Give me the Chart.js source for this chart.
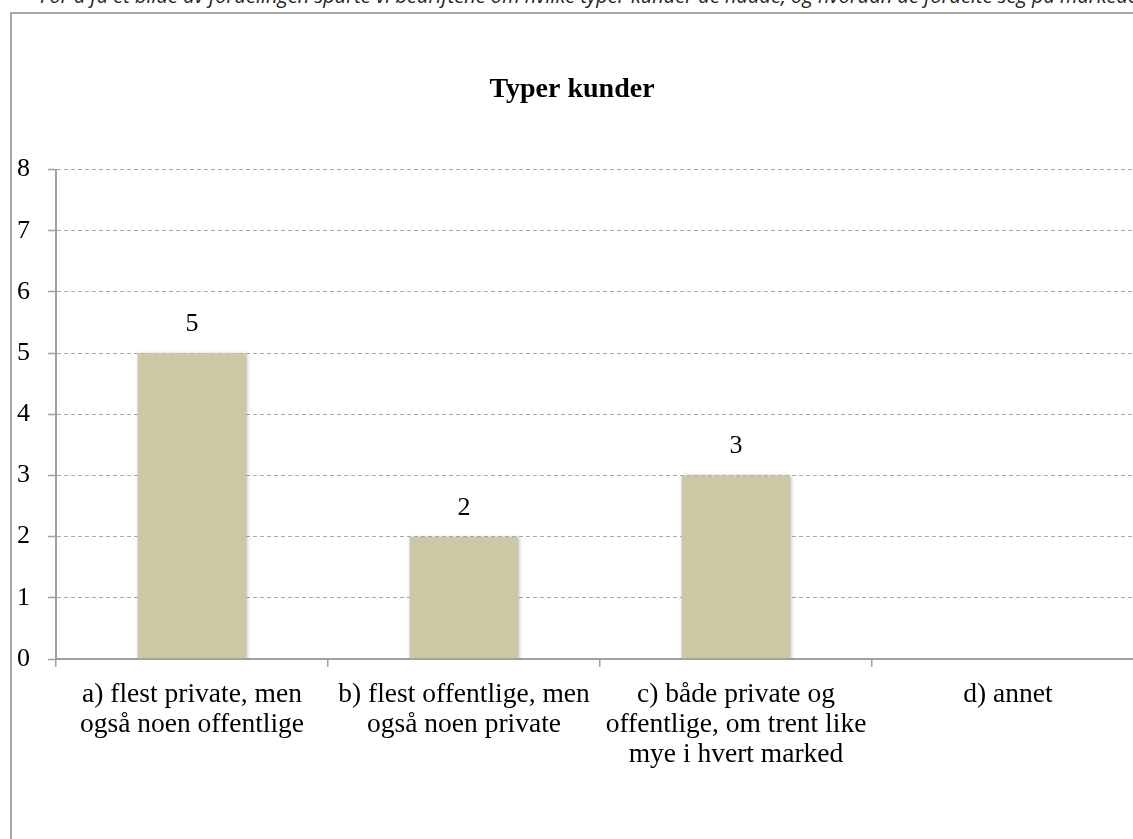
<!DOCTYPE html>
<html>
<head>
<meta charset="utf-8">
<script src="https://cdn.jsdelivr.net/npm/chart.js@4.4.1/dist/chart.umd.min.js"></script>
<style>
  html, body { margin: 0; padding: 0; background: #fff; overflow: hidden; width: 1133px; height: 839px; }
  #intro { position: absolute; left: 40px; top: -18px; font: italic 20px "Open Sans", sans-serif; color: #222; white-space: nowrap; }
  #frame { position: absolute; left: 10px; top: 12px; width: 1200px; height: 900px; border: 2px solid #a6a6a6; box-sizing: border-box; }
  #wrap { position: absolute; left: 0; top: 0; width: 1160px; height: 839px; }
</style>
</head>
<body>
<div id="intro">For å få et bilde av fordelingen spurte vi bedriftene om hvilke typer kunder de hadde, og hvordan de fordelte seg på markedene.</div>
<div id="frame"></div>
<div id="wrap"><canvas id="myChart"></canvas></div>
<script>
"use strict";
var categories = [
    ["a) flest private, men", "også noen offentlige"],
    ["b) flest offentlige, men", "også noen private"],
    ["c) både private og", "offentlige, om trent like", "mye i hvert marked"],
    ["d) annet"]
];
var antall = [5, 2, 3, 0];
var yTicks = [0, 1, 2, 3, 4, 5, 6, 7, 8];

var serif = "'Liberation Serif', 'DejaVu Serif', serif";

// verdier over stolpene
var valueLabels = {
    id: "valueLabels",
    afterDatasetsDraw: function (chart) {
        var ctx = chart.ctx;
        var meta = chart.getDatasetMeta(0);
        ctx.save();
        ctx.font = "26px " + serif;
        ctx.fillStyle = "#000";
        ctx.textAlign = "center";
        ctx.textBaseline = "alphabetic";
        meta.data.forEach(function (bar, i) {
            var v = chart.data.datasets[0].data[i];
            if (!v) return;
            ctx.fillText(String(v), bar.x, bar.y - 22);
        });
        ctx.restore();
    }
};

// litt skygge rundt stolpene
var barShadow = {
    id: "barShadow",
    beforeDatasetsDraw: function (chart) {
        var ctx = chart.ctx;
        ctx.save();
        ctx.shadowColor = "rgba(0,0,0,0.28)";
        ctx.shadowBlur = 4;
        ctx.shadowOffsetX = 1;
        ctx.shadowOffsetY = 1;
    },
    afterDatasetsDraw: function (chart) {
        chart.ctx.restore();
    }
};

var ctx = document.getElementById("myChart");
var myChart = new Chart(ctx, {
    type: "bar",
    data: {
        labels: categories,
        datasets: [{
            data: antall,
            backgroundColor: "#ccc7a5",
            borderWidth: 0,
            barPercentage: 0.4,
            categoryPercentage: 1.0
        }]
    },
    options: {
        responsive: true,
        maintainAspectRatio: false,
        animation: false,
        layout: { padding: { left: 0, right: 16, top: 0, bottom: 0 } },
        plugins: {
            legend: { display: false },
            tooltip: { enabled: false },
            title: {
                display: true,
                text: "Typer kunder",
                color: "#000",
                font: { family: serif, size: 28, weight: "bold", lineHeight: 1.2 },
                padding: { top: 73, bottom: 63 }
            }
        },
        scales: {
            x: {
                grid: {
                    display: true,
                    drawOnChartArea: false,
                    offset: true,
                    tickLength: 8,
                    color: "#a0a0a0",
                    lineWidth: 1.5
                },
                border: { color: "#a0a0a0", width: 2 },
                ticks: {
                    color: "#000",
                    padding: 13,
                    maxRotation: 0,
                    autoSkip: false,
                    font: { family: serif, size: 27.5, lineHeight: "30px" }
                },
                afterFit: function (scale) { scale.height = 180; }
            },
            y: {
                min: 0,
                max: 8,
                afterBuildTicks: function (scale) {
                    scale.ticks = yTicks.map(function (v) { return { value: v }; });
                },
                grid: {
                    color: "#a8a8a8",
                    lineWidth: 1,
                    tickLength: 8,
                    tickColor: "#a0a0a0",
                    tickWidth: 1.5,
                    tickBorderDash: []
                },
                border: { color: "#a0a0a0", width: 2, dash: [4, 3] },
                ticks: {
                    color: "#000",
                    padding: 18,
                    font: { family: serif, size: 26 }
                },
                afterFit: function (scale) { scale.width = 56; }
            }
        }
    },
    plugins: [barShadow, valueLabels]
});
</script>
</body>
</html>
